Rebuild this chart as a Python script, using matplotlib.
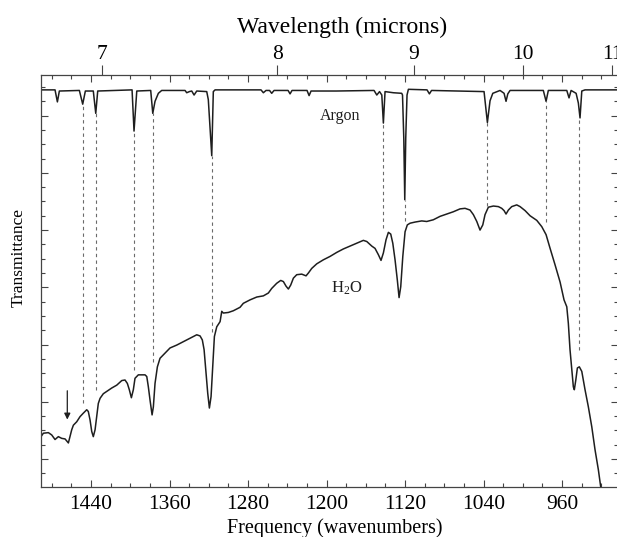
import matplotlib
matplotlib.use("Agg")
import matplotlib.pyplot as plt
from matplotlib.ticker import MultipleLocator

# Espectro de H2O (numero de onda en cm^-1, transmitancia en unidades arbitrarias)
h2o_wn = [1491.0, 1488.6, 1483.5, 1480.1, 1476.7, 1473.3, 1469.9, 1466.5, 1463.1, 1459.7,
          1458.0, 1454.6, 1451.2, 1447.9, 1444.4, 1442.8, 1441.0, 1439.3, 1437.7, 1435.9,
          1434.2, 1432.6, 1430.8, 1427.5, 1424.0, 1418.9, 1413.8, 1408.7, 1405.4, 1403.0,
          1401.0, 1398.9, 1396.9, 1395.2, 1391.8, 1385.0, 1383.2, 1381.6, 1379.9, 1377.8,
          1376.5, 1374.8, 1372.4, 1369.7, 1364.6, 1359.5, 1352.7, 1345.9, 1339.1, 1332.3,
          1328.9, 1326.6, 1324.8, 1323.1, 1321.1, 1319.4, 1317.7, 1316.0, 1314.3, 1311.9,
          1308.5, 1306.8, 1305.2, 1300.1, 1295.0, 1288.2, 1284.8, 1278.0, 1271.1, 1264.4,
          1259.3, 1255.9, 1250.8, 1246.7, 1244.0, 1241.3, 1238.9, 1236.5, 1233.8, 1230.4,
          1225.3, 1220.9, 1218.5, 1215.1, 1210.0, 1203.3, 1196.4, 1189.6, 1182.9, 1176.1,
          1169.2, 1162.5, 1159.0, 1153.9, 1150.6, 1147.2, 1144.5, 1142.1, 1139.4, 1137.0,
          1134.6, 1132.5, 1130.2, 1127.9, 1126.1, 1124.4, 1122.3, 1120.0, 1117.7, 1114.9,
          1109.8, 1103.0, 1097.9, 1091.2, 1084.3, 1077.5, 1070.8, 1064.0, 1058.9, 1053.8,
          1050.4, 1046.9, 1043.6, 1040.8, 1038.5, 1035.1, 1030.0, 1024.9, 1021.5, 1019.1,
          1017.1, 1014.7, 1011.3, 1006.2, 1002.8, 997.7, 992.6, 985.8, 980.7, 976.3,
          972.2, 967.1, 962.0, 958.0, 955.2, 953.6, 951.9, 950.1, 948.5, 947.5,
          946.0, 944.4, 942.4, 939.9, 936.6, 933.2, 929.7, 926.4, 923.0, 920.6, 918.2]
h2o_t = [0.039, 0.045, 0.046, 0.042, 0.034, 0.039, 0.036, 0.035, 0.028, 0.051,
         0.059, 0.065, 0.074, 0.080, 0.086, 0.083, 0.068, 0.048, 0.039, 0.051,
         0.074, 0.097, 0.106, 0.114, 0.118, 0.124, 0.129, 0.137, 0.138, 0.132,
         0.121, 0.107, 0.121, 0.141, 0.147, 0.147, 0.144, 0.126, 0.103, 0.077,
         0.091, 0.132, 0.161, 0.176, 0.185, 0.194, 0.199, 0.205, 0.211, 0.217,
         0.215, 0.208, 0.191, 0.156, 0.115, 0.089, 0.109, 0.161, 0.214, 0.231,
         0.240, 0.258, 0.255, 0.256, 0.259, 0.265, 0.272, 0.278, 0.283, 0.285,
         0.290, 0.298, 0.307, 0.312, 0.310, 0.302, 0.297, 0.304, 0.316, 0.322,
         0.323, 0.320, 0.325, 0.333, 0.341, 0.348, 0.354, 0.361, 0.367, 0.372,
         0.377, 0.382, 0.380, 0.372, 0.368, 0.357, 0.347, 0.360, 0.383, 0.396,
         0.393, 0.377, 0.348, 0.313, 0.282, 0.301, 0.354, 0.397, 0.409, 0.412,
         0.414, 0.416, 0.415, 0.418, 0.424, 0.428, 0.432, 0.437, 0.438, 0.435,
         0.427, 0.415, 0.400, 0.409, 0.427, 0.440, 0.442, 0.441, 0.438, 0.434,
         0.428, 0.435, 0.441, 0.444, 0.441, 0.434, 0.425, 0.417, 0.406, 0.392,
         0.368, 0.339, 0.309, 0.278, 0.266, 0.237, 0.191, 0.156, 0.126, 0.121,
         0.138, 0.159, 0.161, 0.153, 0.121, 0.091, 0.056, 0.016, -0.019, -0.049, -0.072]

# Espectro de la matriz de argon
argon_wn = [1491.0, 1476.7, 1474.3, 1472.3, 1451.9, 1448.5, 1445.8, 1437.7, 1435.2, 1433.2,
            1398.2, 1396.2, 1393.4, 1379.2, 1377.1, 1374.8, 1371.4, 1368.0, 1344.2, 1342.5,
            1339.8, 1337.4, 1335.0, 1332.3, 1322.1, 1320.5, 1317.0, 1315.4, 1313.6, 1266.8,
            1264.4, 1261.7, 1258.1, 1255.9, 1253.5, 1239.2, 1237.2, 1235.2, 1219.9, 1217.8,
            1215.8, 1190.3, 1151.6, 1148.8, 1146.0, 1143.7, 1142.1, 1140.4, 1131.9, 1123.4,
            1122.6, 1121.3, 1120.3, 1119.3, 1118.0, 1116.6, 1097.6, 1095.2, 1093.0, 1039.5,
            1036.1, 1033.4, 1030.6, 1023.2, 1019.1, 1017.1, 1015.3, 1013.0, 979.1, 976.3,
            974.0, 955.2, 952.9, 950.8, 945.7, 943.4, 941.7, 939.9, 936.6, 904.0]
argon_t = [0.645, 0.645, 0.624, 0.643, 0.644, 0.620, 0.643, 0.643, 0.604, 0.643,
           0.645, 0.573, 0.643, 0.644, 0.604, 0.625, 0.639, 0.644, 0.644, 0.640,
           0.642, 0.643, 0.636, 0.643, 0.642, 0.628, 0.530, 0.642, 0.645, 0.645,
           0.640, 0.644, 0.644, 0.639, 0.644, 0.644, 0.638, 0.644, 0.644, 0.635,
           0.643, 0.643, 0.644, 0.636, 0.642, 0.636, 0.587, 0.642, 0.640, 0.639,
           0.636, 0.561, 0.453, 0.561, 0.636, 0.646, 0.645, 0.638, 0.644, 0.642,
           0.588, 0.626, 0.639, 0.644, 0.639, 0.625, 0.638, 0.644, 0.644, 0.625,
           0.644, 0.644, 0.631, 0.644, 0.639, 0.622, 0.596, 0.643, 0.645, 0.645]

# Lineas discontinuas que unen bandas de argon con bandas de H2O
line_wn = [1448.5, 1435.2, 1396.2, 1377.1, 1317.0, 1142.1, 1120.3, 1036.1, 976.3, 943.0]
line_top = [0.620, 0.604, 0.573, 0.604, 0.530, 0.587, 0.453, 0.588, 0.625, 0.596]
line_bottom = [0.098, 0.121, 0.156, 0.170, 0.222, 0.404, 0.416, 0.442, 0.414, 0.191]

wl_ticks = [7, 8, 9, 10, 11]

plt.rcParams['font.family'] = ['Liberation Serif', 'DejaVu Serif']
plt.rcParams['mathtext.fontset'] = 'custom'
plt.rcParams['mathtext.rm'] = 'Liberation Serif'
plt.rcParams['mathtext.it'] = 'Liberation Serif:italic'

fig = plt.figure(figsize=(6.17, 5.37), dpi=100)
ax = fig.add_axes([41 / 617, 50 / 537, 577 / 617, 412 / 537])

tinta = '#1e1e1e'
ax.plot(h2o_wn, h2o_t, color=tinta, lw=1.1, clip_on=True)
ax.plot(argon_wn, argon_t, color=tinta, lw=1.1)
ax.vlines(line_wn, line_bottom, line_top, colors='#6a6a6a', lw=0.8,
          linestyles=(0, (3, 3)))

ax.text(1186.7, 0.599, 'Argon', fontsize=11.5, ha='center', va='center', color=tinta)
ax.text(1179, 0.299, r'H$_\mathrm{2}$O', fontsize=12, ha='center', va='center', color=tinta)
ax.annotate('', xy=(1464.2, 0.064), xytext=(1464.2, 0.124),
            arrowprops=dict(arrowstyle='-|>', color=tinta, lw=0.9, mutation_scale=9))

ax.set_xlim(1491, 903)
ax.set_ylim(-0.049, 0.671)

# Ejes: ticks hacia dentro, sin etiquetas en Y
ax.xaxis.set_major_locator(MultipleLocator(80))
ax.xaxis.set_minor_locator(MultipleLocator(20))
ax.yaxis.set_major_locator(MultipleLocator(0.1))
ax.yaxis.set_minor_locator(MultipleLocator(0.025))
ax.tick_params(which='both', direction='in', top=True, right=True, color='#444444',
               labelleft=False, labeltop=False, labelsize=15.5, pad=6)
ax.tick_params(which='major', length=5, width=0.8)
ax.tick_params(which='minor', length=3, width=0.8)
for s in ax.spines.values():
    s.set_color('#444444')
    s.set_linewidth(0.9)

ax.set_xlabel('Frequency (wavenumbers)', fontsize=14.5)
ax.xaxis.set_label_coords(0.509, -0.076)
ax.set_ylabel('Transmittance', fontsize=12.5)
ax.yaxis.set_label_coords(-0.025, 0.558)

# Eje superior con longitud de onda en micras
sec = ax.secondary_xaxis('top', functions=(lambda f: 1e4 / f, lambda w: 1e4 / w))
sec.set_xticks(wl_ticks)
sec.tick_params(direction='out', length=7, width=0.8, color='#444444',
                labelsize=15.5, pad=1)
sec.spines['top'].set_visible(False)
sec.set_xlabel('Wavelength (microns)', fontsize=17)
sec.xaxis.set_label_coords(0.522, 1.102, transform=ax.transAxes)

fig.savefig('out.png', dpi=100)
